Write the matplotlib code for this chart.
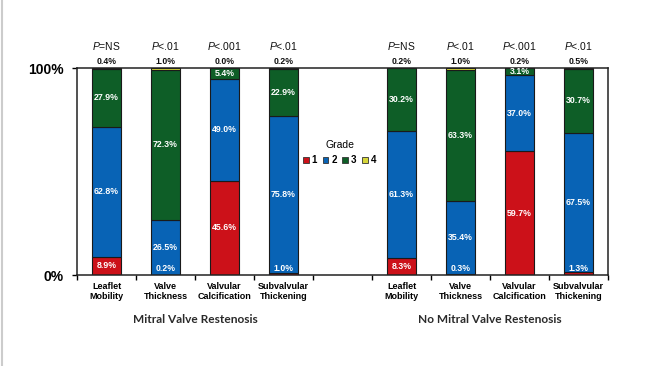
import numpy as np
import matplotlib.pyplot as plt
import matplotlib.transforms as mtransforms
from matplotlib.patches import Patch
from matplotlib.lines import Line2D

plt.rcParams['font.family'] = ['Liberation Sans', 'DejaVu Sans']
plt.rcParams['mathtext.fontset'] = 'custom'
plt.rcParams['mathtext.it'] = 'Liberation Sans:italic'
plt.rcParams['mathtext.rm'] = 'Liberation Sans'

categories = ['Leaflet\nMobility', 'Valve\nThickness', 'Valvular\nCalcification', 'Subvalvular\nThickening']
p_values = ['=NS', '<.01', '<.001', '<.01']
groups = ['Mitral Valve Restenosis', 'No Mitral Valve Restenosis']

# grade percentages per category: restenosis group, then no restenosis group
mvr_g1 = [8.9, 0.2, 45.6, 1.0]
mvr_g2 = [62.8, 26.5, 49.0, 75.8]
mvr_g3 = [27.9, 72.3, 5.4, 22.9]
mvr_g4 = [0.4, 1.0, 0.0, 0.2]

nomvr_g1 = [8.3, 0.3, 59.7, 1.3]
nomvr_g2 = [61.3, 35.4, 37.0, 67.5]
nomvr_g3 = [30.2, 63.3, 3.1, 30.7]
nomvr_g4 = [0.2, 1.0, 0.2, 0.5]

grade_names = ['1', '2', '3', '4']
colors = ['#CC1119', '#0863B5', '#0E5E27', '#D6D63A']

g1 = mvr_g1 + nomvr_g1
g2 = mvr_g2 + nomvr_g2
g3 = mvr_g3 + nomvr_g3
g4 = mvr_g4 + nomvr_g4
xpos = np.array([0, 1, 2, 3, 5, 6, 7, 8])

fig = plt.figure(figsize=(6.5, 3.66), dpi=100)
ax = fig.add_axes([0.1185, 0.2486, 0.8169, 0.5656])

bottom = np.zeros(len(xpos))
for vals, c in zip([g1, g2, g3, g4], colors):
    vals = np.array(vals)
    ax.bar(xpos, vals, 0.5, bottom=bottom, color=c, edgecolor='#1a1a1a', linewidth=0.8)
    bottom += vals

lbl = dict(ha='center', va='center', fontsize=6.3, fontweight='bold', color='white')
for i, x in enumerate(xpos):
    # grade 1 (small values sit at the bottom of the bar)
    if g1[i] >= 5:
        ax.text(x, g1[i] / 2, f'{g1[i]:.1f}%', **lbl)
    else:
        ax.text(x, 3.2, f'{g1[i]:.1f}%', **lbl)
    ax.text(x, g1[i] + g2[i] / 2, f'{g2[i]:.1f}%', **lbl)
    ax.text(x, g1[i] + g2[i] + g3[i] / 2, f'{g3[i]:.1f}%', **lbl)
    # grade 4 above the bar
    ax.text(x, 101.2, f'{g4[i]:.1f}%', ha='center', va='bottom', fontsize=6.3,
            fontweight='bold', color='#111111')
    ax.text(x, 107.5, '$\\it{P}$' + p_values[i % 4], ha='center', va='bottom',
            fontsize=7.5, color='#111111')

ax.set_xlim(-0.5, 8.5)
ax.set_ylim(0, 100)
ax.set_xticks(np.arange(-0.5, 9, 1))
ax.set_xticklabels([])
ax.set_xticks(xpos, minor=True)
ax.set_xticklabels(categories + categories, minor=True, fontsize=6.5, fontweight='bold',
                   linespacing=1.1)
ax.tick_params(axis='x', which='major', length=3.5, width=1, direction='out')
ax.tick_params(axis='x', which='minor', length=0, pad=5)
ax.set_yticks([0, 100])
ax.set_yticklabels(['0%', '100%'], fontsize=10, fontweight='bold')
ax.tick_params(axis='y', length=3.5, width=1, pad=6)
for s in ax.spines.values():
    s.set_linewidth(1.1)
    s.set_color('#222222')

trans = mtransforms.blended_transform_factory(ax.transData, fig.transFigure)
for gx, name in zip([1.5, 6.5], groups):
    ax.text(gx, 0.128, name, transform=trans, ha='center', va='center',
            fontsize=8.6, family='Lato', fontweight='bold', color='#2a2a2a')

handles = [Patch(facecolor=c, edgecolor='#333333', linewidth=0.6) for c in colors]
leg = ax.legend(handles, grade_names, title='Grade', ncol=4, frameon=False,
                loc='center', bbox_to_anchor=(3.95, 59), bbox_transform=ax.transData,
                fontsize=7, title_fontsize=7.5, handlelength=0.6, handleheight=0.6,
                handletextpad=0.3, columnspacing=0.55)
for t in leg.get_texts():
    t.set_fontweight('bold')

fig.add_artist(Line2D([0.003, 0.003], [0, 1], transform=fig.transFigure,
                      color='#cccccc', linewidth=1.5))

fig.savefig('out.png', dpi=100)
